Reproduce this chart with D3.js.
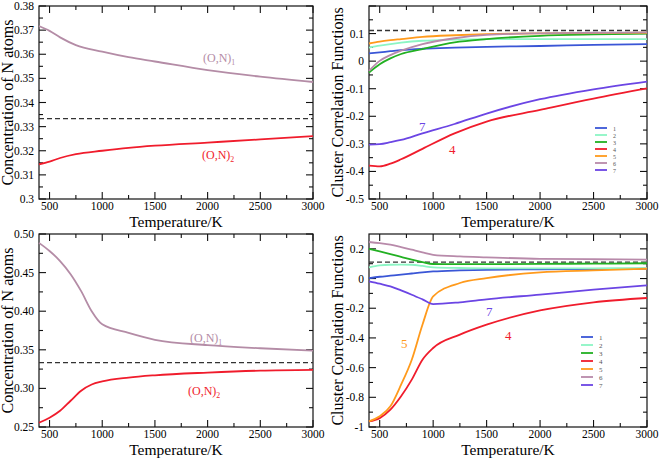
<!DOCTYPE html>
<html><head><meta charset="utf-8">
<script src="https://cdn.jsdelivr.net/npm/d3@7"></script>
<style>body{margin:0;background:#fff}svg{display:block}text{font-family:"Liberation Serif","Times New Roman",serif}</style>
</head><body><svg id="c" width="661" height="458"></svg>
<script>
// ---------- DATA ----------
const T_tl = [400,500,600,750,1000,1250,1500,2000,2500,3000];
const on1_tl = [0.3717,0.3697,0.3670,0.3638,0.3611,0.3588,0.3570,0.3534,0.3507,0.3485];
const on2_tl = [0.3144,0.3155,0.3170,0.3186,0.3200,0.3212,0.3221,0.3234,0.3247,0.3261];

const T_tr = [400,500,600,700,900,1200,1500,2000,2500,3000];
const tr1 = [0.028,0.032,0.036,0.040,0.045,0.049,0.052,0.055,0.059,0.062];
const tr2 = [0.049,0.056,0.062,0.067,0.074,0.078,0.080,0.080,0.080,0.080];
const tr3 = [-0.041,-0.011,0.010,0.026,0.044,0.068,0.080,0.092,0.097,0.100];
const tr4 = [-0.379,-0.382,-0.372,-0.356,-0.318,-0.262,-0.219,-0.177,-0.136,-0.099];
const tr5 = [0.064,0.071,0.076,0.080,0.088,0.094,0.098,0.101,0.102,0.103];
const tr6 = [-0.035,0.001,0.022,0.038,0.062,0.083,0.095,0.101,0.103,0.104];
const tr7 = [-0.303,-0.301,-0.294,-0.286,-0.262,-0.228,-0.190,-0.138,-0.102,-0.074];

const T_bl = [400,500,600,700,800,900,1000,1250,1500,2000,2500,3000];
const on1_bl = [0.4885,0.478,0.465,0.448,0.426,0.400,0.383,0.372,0.363,0.356,0.352,0.349];
const on2_bl = [0.2555,0.262,0.271,0.284,0.297,0.305,0.309,0.314,0.317,0.3205,0.323,0.324];

const T_br = [400,500,600,700,800,900,1000,1250,1500,2000,2500,3000];
const br1 = [0.003,0.012,0.019,0.026,0.034,0.042,0.048,0.055,0.059,0.062,0.064,0.066];
const br2 = [0.075,0.088,0.093,0.094,0.093,0.085,0.075,0.071,0.069,0.069,0.069,0.070];
const br3 = [0.200,0.183,0.165,0.146,0.127,0.111,0.098,0.097,0.097,0.099,0.100,0.103];
const br4 = [-0.962,-0.940,-0.883,-0.793,-0.681,-0.547,-0.468,-0.378,-0.311,-0.215,-0.160,-0.131];
const br5 = [-0.962,-0.928,-0.861,-0.715,-0.547,-0.311,-0.120,-0.030,0.003,0.042,0.055,0.066];
const br6 = [0.246,0.238,0.228,0.212,0.194,0.176,0.160,0.149,0.143,0.133,0.130,0.127];
const br7 = [-0.019,-0.035,-0.053,-0.080,-0.109,-0.140,-0.172,-0.160,-0.140,-0.108,-0.075,-0.046];

const xTicks = [500,1000,1500,2000,2500,3000];
const yTicks_tl = [0.3,0.31,0.32,0.33,0.34,0.35,0.36,0.37,0.38];
const yTicks_tr = [-0.5,-0.4,-0.3,-0.2,-0.1,0,0.1];
const yTicks_bl = [0.25,0.30,0.35,0.40,0.45,0.50];
const yTicks_br = [-1,-0.8,-0.6,-0.4,-0.2,0,0.2];
const legendNames = ["1","2","3","4","5","6","7"];
const refN = 1/3, refCCF = 1/9;

// ---------- STYLE ----------
const colors = ["#3a56d6","#8cf5c4","#22b022","#f01c2c","#ff9a1c","#b88aaa","#6b45e4"];
const cON1 = "#b48ca6", cON2 = "#f01c2c";
const svg = d3.select("#c");
const fmtPlain = v => d3.format("")(v).replace("\u2212","-");
const fmt2 = v => d3.format(".2f")(v).replace("\u2212","-");

function panel(o){
  const g = svg.append("g");
  const x = d3.scaleLinear().domain([400,3000]).range([o.x0,o.x1]);
  const y = d3.scaleLinear().domain(o.ydom).range([o.y1,o.y0]);
  g.append("rect").attr("x",o.x0).attr("y",o.y0).attr("width",o.x1-o.x0).attr("height",o.y1-o.y0)
    .attr("fill","none").attr("stroke","#111").attr("stroke-width",1.2);
  const tk = g.append("g").attr("stroke","#111").attr("stroke-width",1.1);
  const minorX = d3.range(250,3001,250).filter(v=>v>400 && xTicks.indexOf(v)<0);
  xTicks.forEach(v=>{const X=x(v);tk.append("line").attr("x1",X).attr("x2",X).attr("y1",o.y1).attr("y2",o.y1-7);
    tk.append("line").attr("x1",X).attr("x2",X).attr("y1",o.y0).attr("y2",o.y0+7);});
  minorX.forEach(v=>{const X=x(v);tk.append("line").attr("x1",X).attr("x2",X).attr("y1",o.y1).attr("y2",o.y1-4);
    tk.append("line").attr("x1",X).attr("x2",X).attr("y1",o.y0).attr("y2",o.y0+4);});
  const st = o.yStep;
  const allMaj = d3.range(Math.round(o.ydom[0]/st), Math.round(o.ydom[1]/st)+1).map(i=>+(i*st).toFixed(6));
  allMaj.forEach(v=>{const Y=y(v);tk.append("line").attr("x1",o.x0).attr("x2",o.x0+7).attr("y1",Y).attr("y2",Y);
    tk.append("line").attr("x1",o.x1).attr("x2",o.x1-7).attr("y1",Y).attr("y2",Y);});
  allMaj.slice(0,-1).forEach(v=>{const Y=y(v+st/2);if(Y<o.y0)return;tk.append("line").attr("x1",o.x0).attr("x2",o.x0+4).attr("y1",Y).attr("y2",Y);
    tk.append("line").attr("x1",o.x1).attr("x2",o.x1-4).attr("y1",Y).attr("y2",Y);});
  xTicks.forEach(v=>g.append("text").attr("x",x(v)).attr("y",o.y1+11).attr("text-anchor","middle")
    .attr("font-size",11.5).text(v));
  o.yTicks.forEach(v=>g.append("text").attr("x",o.x0-5).attr("y",y(v)+4).attr("text-anchor","end")
    .attr("font-size",11.5).text(o.yfmt(v)));
  g.append("text").attr("x",(o.x0+o.x1)/2).attr("y",o.y1+27.5).attr("text-anchor","middle")
    .attr("font-size",15.5).text("Temperature/K");
  g.append("text").attr("transform",`translate(${o.x0-26},${(o.y0+o.y1)/2}) rotate(-90)`)
    .attr("text-anchor","middle").attr("font-size",16).text(o.ytitle);
  g.append("line").attr("x1",o.x0).attr("x2",o.x1).attr("y1",y(o.ref)).attr("y2",y(o.ref))
    .attr("stroke","#333").attr("stroke-width",1.3).attr("stroke-dasharray","5,3");
  const line = d3.line().x(d=>x(d[0])).y(d=>y(d[1])).curve(d3.curveMonotoneX);
  o.series.forEach(s=>{
    g.append("path").datum(s.T.map((t,i)=>[t,s.v[i]])).attr("d",line)
      .attr("fill","none").attr("stroke",s.c).attr("stroke-width",1.8);
  });
  return {g,x,y};
}

function label(g,x,y,txt,sub,c,fs){
  const t = g.append("text").attr("x",x).attr("y",y).attr("fill",c).attr("font-size",fs);
  t.append("tspan").text(txt);
  if(sub) t.append("tspan").attr("dy",3).attr("font-size",fs*0.65).text(sub);
}
function legend(g,x0,y0,dy,fs){
  legendNames.forEach((n,i)=>{
    g.append("line").attr("x1",x0).attr("x2",x0+12).attr("y1",y0+i*dy).attr("y2",y0+i*dy)
      .attr("stroke",colors[i]).attr("stroke-width",1.8);
    g.append("text").attr("x",x0+18).attr("y",y0+i*dy+2.5).attr("font-size",fs).attr("fill","#555").text(n);
  });
}

const p1 = panel({x0:39,x1:313,y0:6,y1:199,ydom:[0.3,0.38],yStep:0.01,yTicks:yTicks_tl,
  yfmt:fmtPlain,ytitle:"Concentration of N atoms",ref:refN,
  series:[{T:T_tl,v:on1_tl,c:cON1},{T:T_tl,v:on2_tl,c:cON2}]});
label(p1.g,203,62,"(O,N)","1",cON1,12);
label(p1.g,202,159,"(O,N)","2",cON2,12);

const trS=[tr1,tr2,tr3,tr4,tr5,tr6,tr7];
const p2 = panel({x0:369,x1:647,y0:6,y1:199,ydom:[-0.5,0.2],yStep:0.1,yTicks:yTicks_tr,
  yfmt:fmtPlain,ytitle:"Cluster Correlation Functions",ref:refCCF,
  series:trS.map((v,i)=>({T:T_tr,v:v,c:colors[i]}))});
label(p2.g,419,131,"7","",colors[6],13);
label(p2.g,449,154,"4","",colors[3],13);
legend(p2.g,595,128,7,6);

const p3 = panel({x0:39,x1:313,y0:234,y1:427,ydom:[0.25,0.5],yStep:0.05,yTicks:yTicks_bl,
  yfmt:fmt2,ytitle:"Concentration of N atoms",ref:refN,
  series:[{T:T_bl,v:on1_bl,c:cON1},{T:T_bl,v:on2_bl,c:cON2}]});
label(p3.g,190,342,"(O,N)","1",cON1,12);
label(p3.g,188,395,"(O,N)","2",cON2,12);

const brS=[br1,br2,br3,br4,br5,br6,br7];
const p4 = panel({x0:369,x1:647,y0:234,y1:427,ydom:[-1,0.3],yStep:0.2,yTicks:yTicks_br,
  yfmt:fmtPlain,ytitle:"Cluster Correlation Functions",ref:refCCF,
  series:brS.map((v,i)=>({T:T_br,v:v,c:colors[i]}))});
label(p4.g,401,348,"5","",colors[4],13);
label(p4.g,486,316,"7","",colors[6],13);
label(p4.g,505,340,"4","",colors[3],13);
legend(p4.g,581,337,8,7);
</script></body></html>
